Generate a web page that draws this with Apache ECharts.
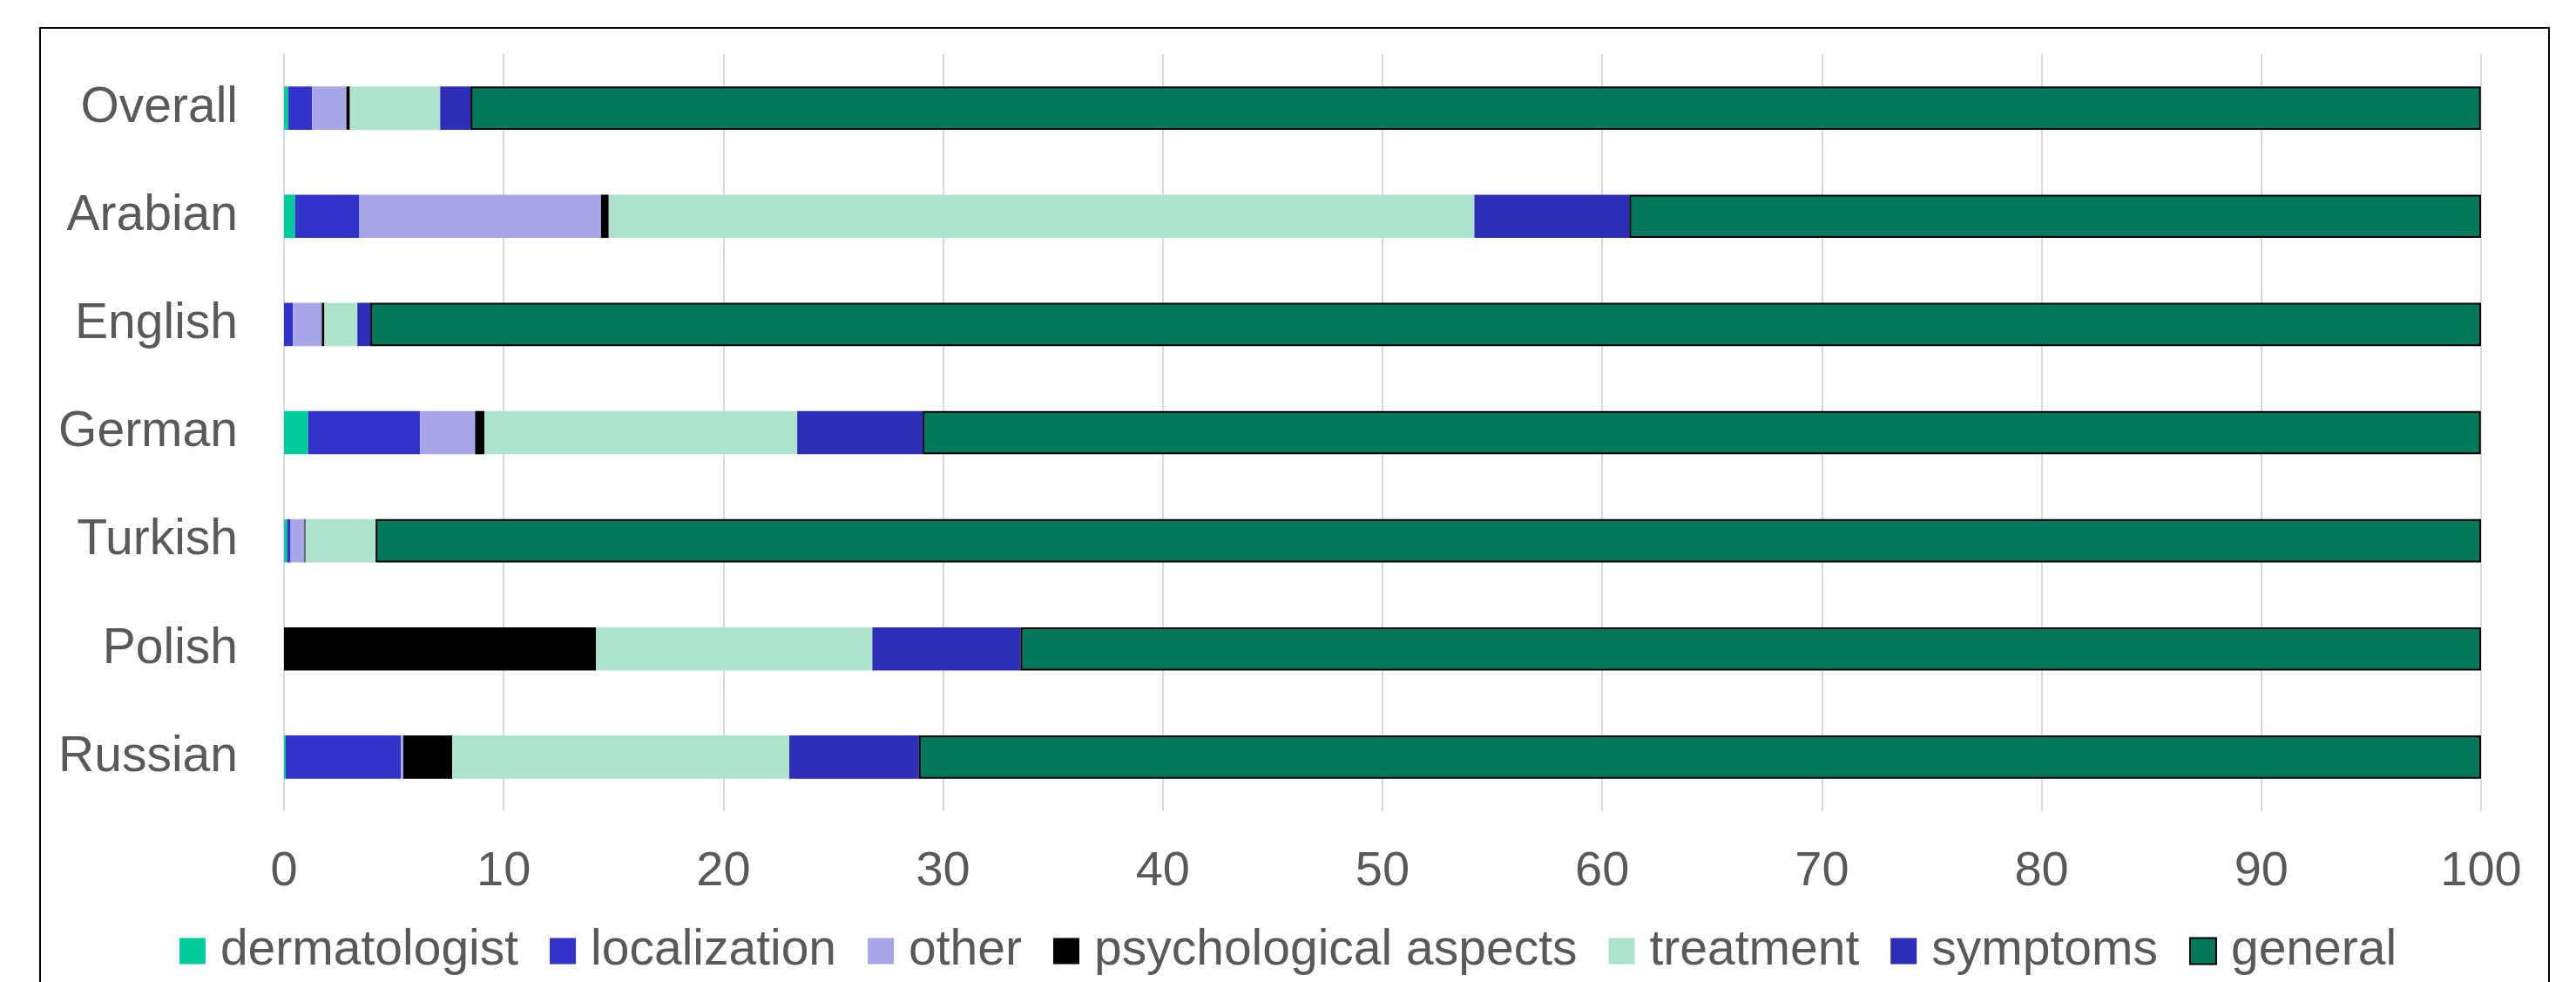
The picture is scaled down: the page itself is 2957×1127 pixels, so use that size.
<!DOCTYPE html>
<html>
<head>
<meta charset="utf-8">
<script src="https://cdn.jsdelivr.net/npm/echarts@6/dist/echarts.min.js"></script>
<style>
  html, body { margin: 0; padding: 0; background: #fff; }
  #main { width: 2957px; height: 1127px; }
</style>
</head>
<body>
<div id="main"></div>
<script>
// 数据
var categories = ['Overall', 'Arabian', 'English', 'German', 'Turkish', 'Polish', 'Russian'];
var dermatologist = [0.2, 0.5, 0, 1.1, 0.14, 0, 0.08];
var localization = [1.08, 2.93, 0.4, 5.1, 0.16, 0, 5.25];
var other = [1.56, 11.0, 1.32, 2.5, 0.63, 0, 0.1];
var psychological = [0.16, 0.35, 0.12, 0.42, 0.05, 14.2, 2.23];
var treatment = [4.11, 39.4, 1.5, 14.24, 3.19, 12.58, 15.34];
var symptoms = [1.38, 7.05, 0.59, 5.71, 0, 6.74, 5.9];
var general = [91.5, 38.77, 96.07, 70.92, 95.83, 66.48, 71.1];
var xTicks = [0, 10, 20, 30, 40, 50, 60, 70, 80, 90, 100];

var textColor = '#595959';
var font = "'Liberation Sans', Arial, sans-serif";

function barSeries(name, data, color, border) {
	return {
		name: name,
		type: 'bar',
		stack: 'total',
		barWidth: '40%',
		data: data,
		itemStyle: {
			color: color,
			borderColor: border ? '#000' : color,
			borderWidth: border ? 2 : 0
		}
	};
}

var myChart = echarts.init(document.getElementById('main'));
var option = {
	backgroundColor: '#fff',
	animation: false,
	textStyle: { fontFamily: font },
	graphic: [{
		type: 'rect', // 外框
		shape: { x: 46, y: 32, width: 2880, height: 1130 },
		style: { fill: 'none', stroke: '#000', lineWidth: 2 },
		silent: true
	}],
	grid: {
		left: 326,
		right: 109,
		top: 62,
		bottom: 196
	},
	xAxis: {
		type: 'value',
		min: xTicks[0],
		max: xTicks[xTicks.length - 1],
		interval: xTicks[1] - xTicks[0],
		axisLine: { show: false },
		axisTick: { show: false },
		axisLabel: {
			color: textColor,
			fontSize: 56,
			fontFamily: font,
			margin: 42
		},
		splitLine: {
			show: true,
			lineStyle: { color: '#D9D9D9', width: 2 }
		}
	},
	yAxis: {
		type: 'category',
		inverse: true,
		data: categories,
		axisLine: { show: false },
		axisTick: { show: false },
		axisLabel: {
			color: textColor,
			fontSize: 57,
			fontFamily: font,
			margin: 53
		}
	},
	legend: {
		bottom: 2,
		left: 'center',
		itemWidth: 30,
		itemHeight: 30,
		itemGap: 36,
		icon: 'rect',
		textStyle: {
			color: textColor,
			fontSize: 57,
			fontFamily: font,
			padding: [0, 0, 0, 12]
		}
	},
	series: [
		barSeries('dermatologist', dermatologist, '#00CC99'),
		barSeries('localization', localization, '#3333CC'),
		barSeries('other', other, '#A6A6E8'),
		barSeries('psychological aspects', psychological, '#000000'),
		barSeries('treatment', treatment, '#ADE3CB'),
		barSeries('symptoms', symptoms, '#2E2DB8'),
		barSeries('general', general, '#00785A', true)
	]
};
myChart.setOption(option);
</script>
</body>
</html>
